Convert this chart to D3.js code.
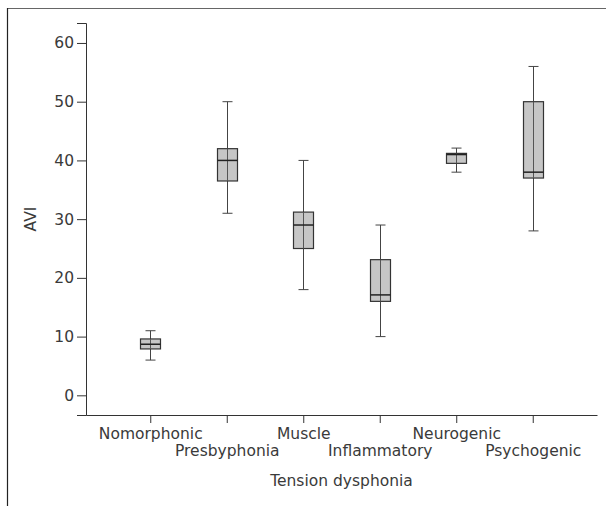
<!DOCTYPE html>
<html><head><meta charset="utf-8">
<script src="https://cdn.jsdelivr.net/npm/d3@7"></script>
<style>
html,body{margin:0;padding:0;background:#fff;}
text{font-family:"DejaVu Sans",sans-serif;fill:#3a3a3a;}
</style></head>
<body><svg id="c" width="606" height="506"></svg>
<script>
const categories = ["Nomorphonic","Presbyphonia","Muscle","Inflammatory","Neurogenic","Psychogenic"];
const whiskerLow  = [6, 31, 18, 10, 38, 28];
const q1          = [7.9, 36.5, 25, 16, 39.5, 37];
const median      = [8.7, 40, 29, 17.1, 41, 38];
const q3          = [9.6, 42, 31.2, 23.1, 41.2, 50];
const whiskerHigh = [11, 50, 40, 29, 42.1, 56];
const yTicks = [0,10,20,30,40,50,60];
const xTitle = "Tension dysphonia";
const yTitle = "AVI";

const svg = d3.select("#c");
const fs = 15.5;
// frame
svg.append("line").attr("x1",7).attr("x2",606).attr("y1",8.5).attr("y2",8.5).attr("stroke","#666").attr("stroke-width",1.2);
svg.append("line").attr("x1",7.5).attr("x2",7.5).attr("y1",8).attr("y2",506).attr("stroke","#222").attr("stroke-width",1.2);

const x = d3.scalePoint().domain(categories).range([86,597]).padding(0.84);
const y = d3.scaleLinear().domain([-3.35,63.4]).range([415,23]);

// y axis
const ya = svg.append("g").attr("transform","translate(86,0)")
  .call(d3.axisLeft(y).tickValues(yTicks).tickSize(9).tickPadding(3));
ya.select(".domain").attr("stroke","#333");
ya.selectAll(".tick line").attr("stroke","#333");
ya.selectAll("text").attr("font-size",fs).attr("font-family","DejaVu Sans").attr("fill","#3a3a3a");

// x axis
const xa = svg.append("g").attr("transform","translate(0,415)")
  .call(d3.axisBottom(x).tickSize(8).tickSizeOuter(0));
xa.select(".domain").attr("stroke","#333");
xa.selectAll(".tick line").attr("stroke","#333");
xa.selectAll("text").attr("font-size",fs).attr("font-family","DejaVu Sans").attr("fill","#3a3a3a")
  .attr("y",(d,i)=> i%2===0 ? 13 : 30).attr("dy","0.71em");

svg.append("text").attr("x",(86+597)/2).attr("y",486).attr("text-anchor","middle")
  .attr("font-size",fs).text(xTitle);
svg.append("text").attr("transform","translate(36,219) rotate(-90)").attr("text-anchor","middle")
  .attr("font-size",fs).text(yTitle);

const bw = 20, cw = 10;
const g = svg.append("g");
categories.forEach((c,i)=>{
  const cx = Math.round(x(c))+0.5;
  const grp = g.append("g");
  grp.append("line").attr("x1",cx).attr("x2",cx).attr("y1",y(whiskerHigh[i])).attr("y2",y(whiskerLow[i])).attr("stroke","#444");
  grp.append("line").attr("x1",cx-cw/2).attr("x2",cx+cw/2).attr("y1",y(whiskerHigh[i])).attr("y2",y(whiskerHigh[i])).attr("stroke","#444");
  grp.append("line").attr("x1",cx-cw/2).attr("x2",cx+cw/2).attr("y1",y(whiskerLow[i])).attr("y2",y(whiskerLow[i])).attr("stroke","#444");
  grp.append("rect").attr("x",cx-bw/2).attr("width",bw).attr("y",y(q3[i])).attr("height",y(q1[i])-y(q3[i]))
    .attr("fill","#c6c6c6").attr("stroke","#333").attr("stroke-width",1.2);
  grp.append("line").attr("x1",cx).attr("x2",cx).attr("y1",y(q3[i])).attr("y2",y(q1[i])).attr("stroke","#555");
  grp.append("line").attr("x1",cx-bw/2).attr("x2",cx+bw/2).attr("y1",y(median[i])).attr("y2",y(median[i])).attr("stroke","#222").attr("stroke-width",1.5);
});
</script></body></html>
